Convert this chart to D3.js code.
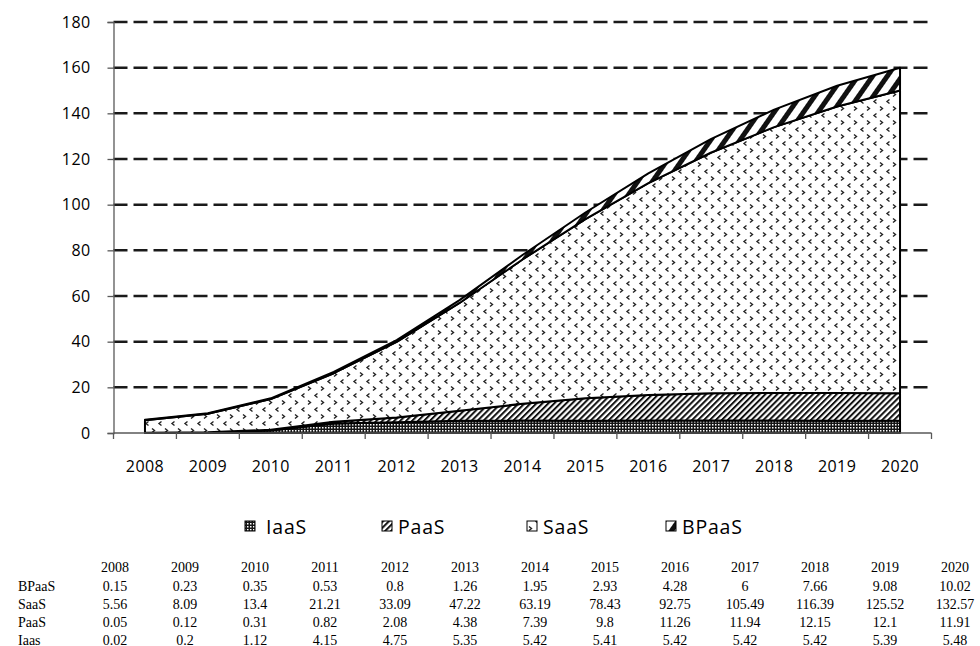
<!DOCTYPE html>
<html>
<head>
<meta charset="utf-8">
<script src="https://cdn.jsdelivr.net/npm/d3@7"></script>
<style>
  html, body { margin: 0; padding: 0; background: #fff; }
  svg { display: block; }
</style>
</head>
<body>
<svg id="chart" width="980" height="646"></svg>
<script>
// Cloud services market by segment, 2008–2020
const years = [2008, 2009, 2010, 2011, 2012, 2013, 2014, 2015, 2016, 2017, 2018, 2019, 2020];
const iaas  = [0.02, 0.2, 1.12, 4.15, 4.75, 5.35, 5.42, 5.41, 5.42, 5.42, 5.42, 5.39, 5.48];
const paas  = [0.05, 0.12, 0.31, 0.82, 2.08, 4.38, 7.39, 9.8, 11.26, 11.94, 12.15, 12.1, 11.91];
const saas  = [5.56, 8.09, 13.4, 21.21, 33.09, 47.22, 63.19, 78.43, 92.75, 105.49, 116.39, 125.52, 132.57];
const bpaas = [0.15, 0.23, 0.35, 0.53, 0.8, 1.26, 1.95, 2.93, 4.28, 6, 7.66, 9.08, 10.02];
const yTicks = [0, 20, 40, 60, 80, 100, 120, 140, 160, 180];

// stacking order, bottom to top
const seriesKeys = ["IaaS", "PaaS", "SaaS", "BPaaS"];
const seriesValues = { IaaS: iaas, PaaS: paas, SaaS: saas, BPaaS: bpaas };
// rows of the data table under the chart (top to bottom)
const tableRows = [["BPaaS", bpaas], ["SaaS", saas], ["PaaS", paas], ["Iaas", iaas]];

const rows = years.map((yr, i) => {
  const r = { year: yr };
  seriesKeys.forEach(k => r[k] = seriesValues[k][i]);
  return r;
});

const svg = d3.select("#chart");
const axisFont = "'Open Sans', 'Noto Sans', sans-serif";

const x = d3.scaleBand().domain(years).range([113.5, 931.5]).padding(0);
const y = d3.scaleLinear().domain([0, 180]).range([433, 22]);
const cx = d => x(d) + x.bandwidth() / 2;

// ---- fill patterns ----
const defs = svg.append("defs");

// IaaS: dark grid with light dots
const pI = defs.append("pattern").attr("id", "pat-iaas")
  .attr("patternUnits", "userSpaceOnUse").attr("width", 3).attr("height", 3);
pI.append("rect").attr("width", 3).attr("height", 3).attr("fill", "#151515");
pI.append("rect").attr("x", 1).attr("y", 1).attr("width", 1.5).attr("height", 1.5).attr("fill", "#fff");

// PaaS: fine diagonal stripes
const pP = defs.append("pattern").attr("id", "pat-paas")
  .attr("patternUnits", "userSpaceOnUse").attr("width", 4.2).attr("height", 10)
  .attr("patternTransform", "rotate(45)");
pP.append("rect").attr("width", 4.2).attr("height", 10).attr("fill", "#fff");
pP.append("rect").attr("width", 2).attr("height", 10).attr("fill", "#111");

// SaaS: white with small chevrons in alternating rows
const pS = defs.append("pattern").attr("id", "pat-saas")
  .attr("patternUnits", "userSpaceOnUse").attr("width", 13).attr("height", 14);
pS.append("rect").attr("width", 13).attr("height", 14).attr("fill", "#fff");
pS.append("path").attr("d", "M5.5,1.5 L3,3.5 L5.5,5.5").attr("fill", "none")
  .attr("stroke", "#222").attr("stroke-width", 1.4);
pS.append("path").attr("d", "M9,8.5 L11.5,10.5 L9,12.5").attr("fill", "none")
  .attr("stroke", "#222").attr("stroke-width", 1.4);

// BPaaS: bold diagonal stripes
const pB = defs.append("pattern").attr("id", "pat-bpaas")
  .attr("patternUnits", "userSpaceOnUse").attr("width", 12).attr("height", 20)
  .attr("patternTransform", "rotate(35)");
pB.append("rect").attr("width", 12).attr("height", 20).attr("fill", "#fff");
pB.append("rect").attr("width", 5).attr("height", 20).attr("fill", "#111");

const fills = { IaaS: "url(#pat-iaas)", PaaS: "url(#pat-paas)", SaaS: "url(#pat-saas)", BPaaS: "url(#pat-bpaas)" };

// ---- gridlines ----
svg.append("g").selectAll("line")
  .data(yTicks.filter(v => v > 0))
  .join("line")
  .attr("x1", x.range()[0]).attr("x2", x.range()[1])
  .attr("y1", d => y(d)).attr("y2", d => y(d))
  .attr("stroke", "#1a1a1a").attr("stroke-width", 2.5)
  .attr("stroke-dasharray", "14,6");

// ---- stacked areas ----
const stacked = d3.stack().keys(seriesKeys)(rows);
const area = d3.area()
  .x(d => cx(d.data.year))
  .y0(d => y(d[0]))
  .y1(d => y(d[1]));

svg.append("g").selectAll("path")
  .data(stacked)
  .join("path")
  .attr("d", area)
  .attr("fill", s => fills[s.key])
  .attr("stroke", "#000")
  .attr("stroke-width", 2)
  .attr("stroke-linejoin", "round");

// ---- axes ----
const yAxis = svg.append("g")
  .attr("transform", `translate(${x.range()[0]},0)`)
  .call(d3.axisLeft(y).tickValues(yTicks).tickSize(6).tickPadding(17));
yAxis.select(".domain").attr("stroke", "#595959").attr("stroke-width", 1.3);
yAxis.selectAll(".tick line").attr("stroke", "#595959").attr("stroke-width", 1.3);
yAxis.selectAll("text").attr("font-family", axisFont).attr("font-size", 16)
  .attr("letter-spacing", 0.4).attr("fill", "#000");

const xAxisG = svg.append("g");
xAxisG.append("line")
  .attr("x1", x.range()[0]).attr("x2", x.range()[1])
  .attr("y1", y(0)).attr("y2", y(0))
  .attr("stroke", "#595959").attr("stroke-width", 1.3);
xAxisG.selectAll("line.tick")
  .data(d3.range(years.length + 1))
  .join("line").attr("class", "tick")
  .attr("x1", i => x.range()[0] + i * x.step()).attr("x2", i => x.range()[0] + i * x.step())
  .attr("y1", y(0)).attr("y2", y(0) + 6)
  .attr("stroke", "#595959").attr("stroke-width", 1.3);
xAxisG.selectAll("text")
  .data(years)
  .join("text")
  .attr("x", d => cx(d)).attr("y", 472)
  .attr("text-anchor", "middle")
  .attr("font-family", axisFont).attr("font-size", 16).attr("letter-spacing", 0.4)
  .attr("fill", "#000")
  .text(d => d);

// ---- legend ----
const legendItems = [
  { key: "IaaS", ix: 245, tx: 266 },
  { key: "PaaS", ix: 382, tx: 398 },
  { key: "SaaS", ix: 527, tx: 543 },
  { key: "BPaaS", ix: 666, tx: 682 }
];
const lg = svg.append("g");
lg.selectAll("rect")
  .data(legendItems)
  .join("rect")
  .attr("x", d => d.ix).attr("y", 521)
  .attr("width", 10).attr("height", 10)
  .attr("fill", d => fills[d.key])
  .attr("stroke", "#000").attr("stroke-width", 1);
lg.selectAll("text")
  .data(legendItems)
  .join("text")
  .attr("x", d => d.tx).attr("y", 533.5)
  .attr("font-family", axisFont).attr("font-size", 19.5).attr("letter-spacing", 0.8)
  .attr("fill", "#000")
  .text(d => d.key);

// ---- data table ----
const serif = "'Liberation Serif', 'DejaVu Serif', serif";
const colX = d3.scaleLinear().domain([0, years.length - 1]).range([115, 955]);
const tbl = svg.append("g").attr("font-family", serif).attr("font-size", 14).attr("fill", "#000");
tbl.selectAll("text.hdr")
  .data(years)
  .join("text").attr("class", "hdr")
  .attr("x", (d, i) => colX(i)).attr("y", 572)
  .attr("text-anchor", "middle")
  .text(d => d);

const rowBase = [590.5, 608.5, 626.5, 644.5];
tableRows.forEach(([label, vals], r) => {
  const g = tbl.append("g");
  g.append("text").attr("x", 18).attr("y", rowBase[r]).text(label);
  g.selectAll("text.v")
    .data(vals)
    .join("text").attr("class", "v")
    .attr("x", (d, i) => colX(i)).attr("y", rowBase[r])
    .attr("text-anchor", "middle")
    .text(d => String(d));
});
</script>
</body>
</html>
